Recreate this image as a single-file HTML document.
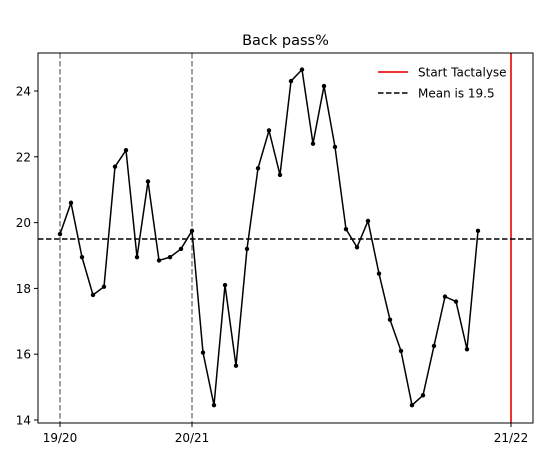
<!DOCTYPE html>
<html><head><meta charset="utf-8"><style>
body{margin:0;background:#fff;font-family:"DejaVu Sans","Liberation Sans",sans-serif;}
</style></head><body>
<svg width="543" height="456" id="c" style="font-family:'DejaVu Sans','Liberation Sans',sans-serif"></svg>
<script>
const values=[19.65,20.6,18.95,17.8,18.05,21.7,22.2,18.95,21.25,18.85,18.95,19.2,19.75,16.05,14.45,18.1,15.65,19.2,21.65,22.8,21.45,24.3,24.65,22.4,24.15,22.3,19.8,19.25,20.05,18.45,17.05,16.1,14.45,14.75,16.25,17.75,17.6,16.15,19.75];
const meanValue=19.5;
const yTicks=[14,16,18,20,22,24];
const seasonLabels=["19/20","20/21","21/22"];
const seasonIndex=[0,12,41];
const tactalyseIndex=41;
const L=38,R=533,T=53,B=423;
const x=i=>60+i*11;
const y=v=>91+(24-v)*32.9;
const svg=document.getElementById('c');
const NS='http://www.w3.org/2000/svg';
function mk(t,a,txt){const e=document.createElementNS(NS,t);for(const k in a)e.setAttribute(k,a[k]);if(txt!==undefined)e.textContent=txt;svg.appendChild(e);return e;}
let e;
e=mk('text',{x:(L+R)/2,y:45,'text-anchor':'middle','font-size':14.5},'Back pass%');


yTicks.forEach(v=>{
 e=mk('line',{x1:L-4,x2:L,y1:y(v),y2:y(v),stroke:'#000'});
 
 
 e=mk('text',{x:L-7,y:y(v)+4.5,'text-anchor':'end','font-size':12},String(v));
 
 
});
seasonIndex.forEach((s,k)=>{
 e=mk('line',{x1:x(s),x2:x(s),y1:B,y2:B+4,stroke:'#000'});
 
 
 e=mk('text',{x:x(s),y:B+19,'text-anchor':'middle','font-size':12},seasonLabels[k]);
 
 
 if(s!==tactalyseIndex){
  e=mk('line',{x1:x(s),x2:x(s),y1:T,y2:B,stroke:'#808080','stroke-width':1.5,'stroke-dasharray':'5.5,2.5'});
  
  
 }
});
e=mk('line',{x1:x(tactalyseIndex),x2:x(tactalyseIndex),y1:T,y2:B,stroke:'#ee3333','stroke-width':2});


e=mk('line',{x1:L,x2:R,y1:y(meanValue),y2:y(meanValue),stroke:'#000','stroke-width':1.5,'stroke-dasharray':'5.5,2.5'});


e=mk('polyline',{points:values.map((v,i)=>x(i)+','+y(v)).join(' '),fill:'none',stroke:'#000','stroke-width':1.5});


values.forEach((v,i)=>{
 e=mk('circle',{cx:x(i),cy:y(v),r:2.2,fill:'#000'});
 
 
});
e=mk('rect',{x:L,y:T,width:R-L,height:B-T,fill:'none',stroke:'#000','stroke-width':1});


e=mk('line',{x1:378,x2:408,y1:72,y2:72,stroke:'#ee3333','stroke-width':2});


e=mk('text',{x:418,y:76.5,'font-size':12},'Start Tactalyse');


e=mk('line',{x1:378,x2:408,y1:93,y2:93,stroke:'#000','stroke-width':1.5,'stroke-dasharray':'5.5,2.5'});


e=mk('text',{x:418,y:97.5,'font-size':12},'Mean is 19.5');


</script>
</body></html>
